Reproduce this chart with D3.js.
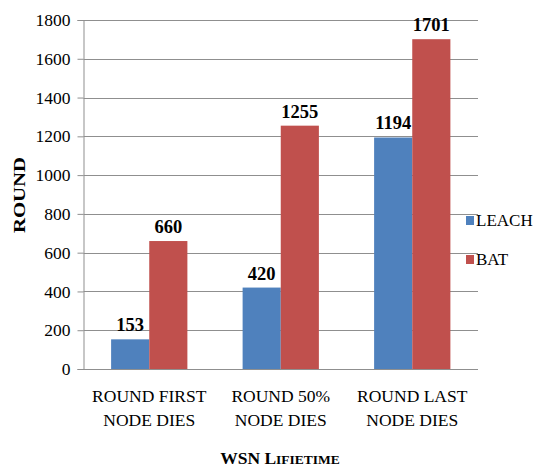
<!DOCTYPE html>
<html><head><meta charset="utf-8">
<script src="https://cdn.jsdelivr.net/npm/d3@7"></script>
<style>body{margin:0;background:#fff}svg{display:block}svg text{font-family:'Liberation Serif','Times New Roman',serif}</style>
</head><body>
<script>
const categories = [["ROUND FIRST","NODE DIES"],["ROUND 50%","NODE DIES"],["ROUND LAST","NODE DIES"]];
const seriesNames = ["LEACH","BAT"];
const leachValues = [153, 420, 1194];
const batValues = [660, 1255, 1701];
const yTicks = [0,200,400,600,800,1000,1200,1400,1600,1800];
const colors = ["#4F81BD","#C0504D"];

(function(){
const W = 537, H = 467;
const svg = d3.select("body").append("svg").attr("width", W).attr("height", H);
const font = "Liberation Serif";
const pl = 83.5, pr = 478, pt = 20, pb = 369;

const x0 = d3.scaleBand().domain(d3.range(categories.length)).range([pl, pr]).paddingInner(0.42).paddingOuter(0.21);
const x1 = d3.scaleBand().domain(seriesNames).range([0, x0.bandwidth()]);
const y = d3.scaleLinear().domain([0, 1800]).range([pb, pt]);

// gridlines
svg.append("g").selectAll("line").data(yTicks).join("line")
  .attr("x1", pl).attr("x2", pr)
  .attr("y1", d => Math.round(y(d)) + 0.5).attr("y2", d => Math.round(y(d)) + 0.5)
  .attr("stroke", "#8f8f8f").attr("stroke-width", 1);

// y axis
const yAxis = svg.append("g").attr("transform", `translate(${pl},0)`)
  .call(d3.axisLeft(y).tickValues(yTicks).tickSize(6).tickPadding(7).tickFormat(d3.format("d")));
yAxis.attr("font-family", font);
yAxis.select(".domain").attr("stroke", "#8f8f8f");
yAxis.selectAll(".tick line").attr("stroke", "#8f8f8f");
yAxis.selectAll("text").style("font-family", font).attr("font-size", 17.5).attr("fill", "#000");

// bars
const data = categories.map((c, i) => ({i, vals: [leachValues[i], batValues[i]]}));
const groups = svg.append("g").selectAll("g").data(data).join("g")
  .attr("transform", d => `translate(${x0(d.i)},0)`);
groups.selectAll("rect").data(d => d.vals.map((v, k) => ({k, v}))).join("rect")
  .attr("x", d => x1(seriesNames[d.k])).attr("width", x1.bandwidth())
  .attr("y", d => y(d.v)).attr("height", d => y(0) - y(d.v))
  .attr("fill", d => colors[d.k]);
groups.selectAll("text.v").data(d => d.vals.map((v, k) => ({k, v}))).join("text")
  .attr("class", "v")
  .attr("x", d => x1(seriesNames[d.k]) + x1.bandwidth() / 2)
  .attr("y", d => y(d.v) - 8)
  .attr("text-anchor", "middle").style("font-family", font).attr("font-weight", "bold")
  .attr("font-size", 18.5).text(d => d.v);

// category labels
const cl = svg.append("g").selectAll("text").data(data).join("text")
  .attr("text-anchor", "middle").style("font-family", font).attr("font-size", 17.5);
cl.each(function(d) {
  const t = d3.select(this);
  categories[d.i].forEach((line, j) => {
    t.append("tspan").attr("x", x0(d.i) + x0.bandwidth() / 2).attr("y", 401.5 + j * 24).text(line);
  });
});

// x title (small caps)
const xt = svg.append("text").attr("x", 280).attr("y", 464).attr("text-anchor", "middle")
  .style("font-family", font).attr("font-weight", "bold").attr("font-size", 17.5);
xt.append("tspan").text("WSN L");
xt.append("tspan").attr("font-size", 13.5).text("IFIETIME");

// y title
svg.append("text").attr("transform", "translate(25,195) rotate(-90) scale(1.3,1)")
  .attr("text-anchor", "middle").style("font-family", font).attr("font-weight", "bold")
  .attr("font-size", 16).text("ROUND");

// legend
const lg = svg.append("g").selectAll("g").data(seriesNames).join("g")
  .attr("transform", (d, i) => `translate(466,${216 + i * 39})`);
lg.append("rect").attr("width", 8).attr("height", 9).attr("fill", (d, i) => colors[i]);
lg.append("text").attr("x", 10).attr("y", 10).style("font-family", font).attr("font-size", 17).text(d => d);
})();
</script>
</body></html>
